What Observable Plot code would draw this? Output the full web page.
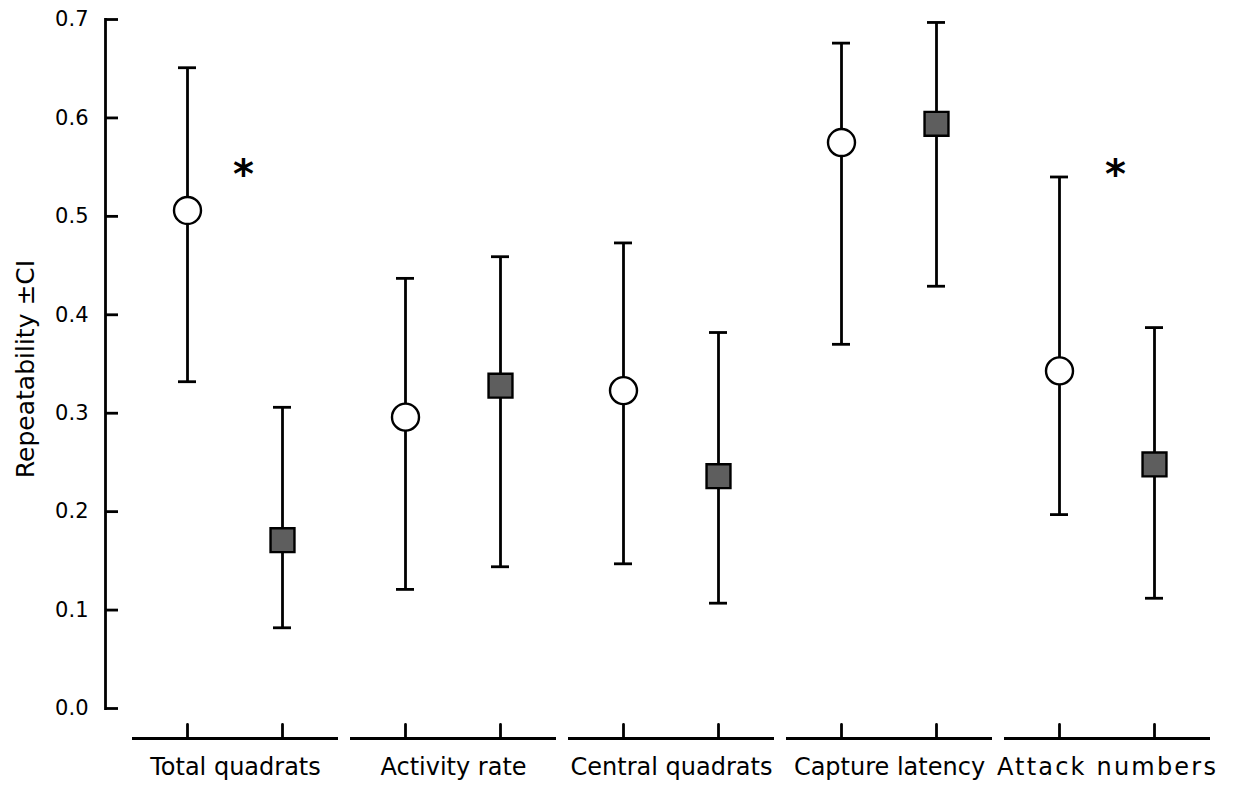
<!DOCTYPE html>
<html>
<head>
<meta charset="utf-8">
<script src="https://cdn.jsdelivr.net/npm/d3@7"></script>
<script src="https://cdn.jsdelivr.net/npm/@observablehq/plot@0.6"></script>
<style>
  html, body { margin: 0; padding: 0; background: #fff; }
  #chart { width: 1236px; height: 786px; }
</style>
</head>
<body>
<div id="chart"></div>
<script>
// ---- data ----
const categories = ["Total quadrats", "Activity rate", "Central quadrats", "Capture latency", "Attack numbers"];

// open circles
const openMean  = [0.506, 0.296, 0.323, 0.575, 0.343];
const openLower = [0.332, 0.121, 0.147, 0.370, 0.197];
const openUpper = [0.651, 0.437, 0.473, 0.676, 0.540];

// filled squares
const filledMean  = [0.171, 0.328, 0.236, 0.594, 0.248];
const filledLower = [0.082, 0.144, 0.107, 0.429, 0.112];
const filledUpper = [0.306, 0.459, 0.382, 0.697, 0.387];

// significance markers
const significant = ["Total quadrats", "Attack numbers"];
const significanceY = [0.542, 0.542];

const yTicks = [0, 0.1, 0.2, 0.3, 0.4, 0.5, 0.6, 0.7];
const yLabel = "Repeatability \u00B1CI";

// ---- drawing ----
const LW = 2.8;
const upTick = { draw(context, l) { context.moveTo(0, 0); context.lineTo(0, -l); } };

function seriesMarks(mean, lower, upper, offset, symbol, fill) {
  const rows = categories.map((c, i) => ({ category: c, mean: mean[i], lower: lower[i], upper: upper[i] }));
  return [
    Plot.vector(rows, { x: "category", y: () => 0, length: 14, rotate: 0, anchor: "start", shape: upTick,
      dx: offset, dy: 30, stroke: "black", strokeWidth: LW }),
    Plot.ruleX(rows, { x: "category", y1: "lower", y2: "upper", dx: offset, stroke: "black", strokeWidth: LW }),
    Plot.tickY(rows, { x: "category", y: "lower", dx: offset, insetLeft: 94, insetRight: 94, stroke: "black", strokeWidth: LW }),
    Plot.tickY(rows, { x: "category", y: "upper", dx: offset, insetLeft: 94, insetRight: 94, stroke: "black", strokeWidth: LW }),
    Plot.dot(rows, { x: "category", y: "mean", dx: offset, r: 13.5, symbol, fill, stroke: "black", strokeWidth: 2.4 })
  ];
}

const sigRows = significant.map((c, i) => ({ category: c, y: significanceY[i] }));

const chart = Plot.plot({
  width: 1236,
  height: 786,
  marginLeft: 105,
  marginRight: 26,
  marginTop: 19,
  marginBottom: 78,
  style: { fontFamily: "DejaVu Sans", background: "white", color: "black", overflow: "visible" },
  x: { type: "band", domain: categories, paddingInner: 0.0572, paddingOuter: 0.0572, align: 1 },
  y: { domain: [0, 0.7] },
  marks: [
    Plot.frame({ anchor: "left", stroke: "black", strokeWidth: LW }),
    Plot.axisY({ ticks: yTicks, tickFormat: d3.format(".1f"), tickSize: -13, tickPadding: 30,
      fontSize: 21, strokeWidth: LW, label: null }),
    Plot.axisX({ tickSize: 0, tickPadding: 49, fontSize: 24, label: null }),
    Plot.tickY(categories, { x: d => d, y: () => 0, dy: 30, stroke: "black", strokeWidth: LW }),
    ...seriesMarks(openMean, openLower, openUpper, -48, "circle", "white"),
    ...seriesMarks(filledMean, filledLower, filledUpper, 47, "square", "#5e5e5e"),
    Plot.text(sigRows, { x: "category", y: "y", text: () => "*", dx: 8, fontSize: 40, fontWeight: "bold" }),
    Plot.text([yLabel], { frameAnchor: "left", text: d => d, rotate: -90, textAnchor: "middle",
      dx: -80, dy: 5, fontSize: 25 })
  ]
});

d3.select(chart).selectAll("text")
  .filter(function () { return this.textContent === "Attack numbers"; })
  .attr("letter-spacing", "2.2px");

document.getElementById("chart").appendChild(chart);
</script>
</body>
</html>
